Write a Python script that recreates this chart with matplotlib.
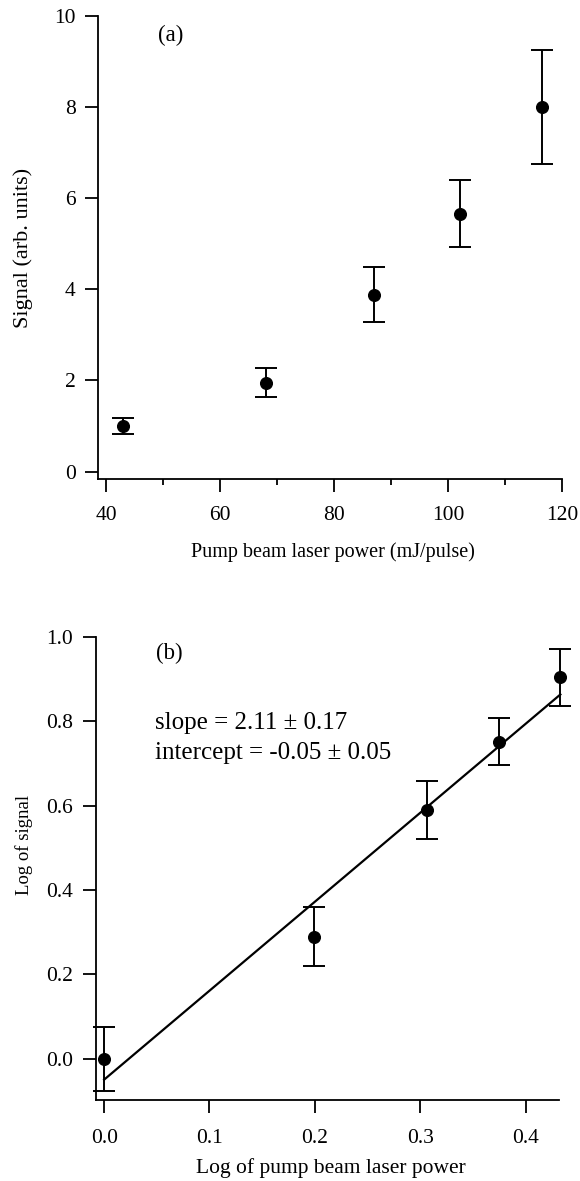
import matplotlib
matplotlib.use("Agg")
import matplotlib.pyplot as plt
from matplotlib.ticker import MultipleLocator

plt.rcParams['font.family'] = ['Liberation Serif', 'DejaVu Serif']

# Panel (a) data
power = [43, 68, 87, 102, 116.5]
signal = [1.0, 1.95, 3.88, 5.65, 8.0]
signal_lo = [0.83, 1.64, 3.28, 4.92, 6.76]
signal_hi = [1.18, 2.27, 4.50, 6.40, 9.25]

# Panel (b) data
log_power = [0.0, 0.199, 0.306, 0.375, 0.433]
log_signal = [0.0, 0.289, 0.59, 0.752, 0.904]
log_signal_lo = [-0.076, 0.22, 0.521, 0.696, 0.836]
log_signal_hi = [0.076, 0.36, 0.658, 0.808, 0.971]

fit_slope = 2.11
fit_intercept = -0.05
fit_x = [0.0, 0.433]

a_xticks = [40, 60, 80, 100, 120]
a_yticks = [0, 2, 4, 6, 8, 10]
b_xticks = [0.0, 0.1, 0.2, 0.3, 0.4]
b_yticks = [0.0, 0.2, 0.4, 0.6, 0.8, 1.0]

W, H = 580, 1181
fig = plt.figure(figsize=(W / 100, H / 100), dpi=100)

def style(ax):
    for s in ('top', 'right'):
        ax.spines[s].set_visible(False)
    for s in ('left', 'bottom'):
        ax.spines[s].set_linewidth(1.3)
    ax.tick_params(which='major', direction='out', length=9.4, width=1.3,
                   labelsize=15.5, color='black')
    ax.tick_params(which='minor', direction='out', length=4.6, width=1.3)

ebkw = dict(fmt='o', color='black', ms=8.4, capsize=8, elinewidth=1.4,
            capthick=1.4, ecolor='black', clip_on=False, zorder=3)

# ---- Panel (a)
ax1 = fig.add_axes([97.8 / W, 1 - 479.3 / H, (562.2 - 97.8) / W, (479.3 - 16) / H])
style(ax1)
yerr_a = [[s - l for s, l in zip(signal, signal_lo)],
          [h - s for s, h in zip(signal, signal_hi)]]
ax1.errorbar(power, signal, yerr=yerr_a, **ebkw)
ax1.set_xlim(38.5, 120)
ax1.set_ylim(-0.17, 10)
ax1.set_xticks(a_xticks)
ax1.set_yticks(a_yticks)
ax1.xaxis.set_minor_locator(MultipleLocator(10))
ax1.set_xticklabels([str(v) for v in a_xticks])
ax1.set_yticklabels([str(v) for v in a_yticks])
ax1.tick_params(axis='x', pad=9.5)
ax1.tick_params(axis='y', pad=6.5)
ax1.set_xlabel('Pump beam laser power (mJ/pulse)', fontsize=14.5, va='center')
ax1.set_ylabel('Signal (arb. units)', fontsize=16, va='center')
ax1.xaxis.set_label_coords(0.506, -0.157)
ax1.yaxis.set_label_coords(-0.161, 0.5)
ax1.text(49, 9.58, '(a)', fontsize=16.5, va='center', ha='left')

# ---- Panel (b)
ax2 = fig.add_axes([95.6 / W, 1 - 1100.3 / H, (559.3 - 95.6) / W, (1100.3 - 637) / H])
style(ax2)
yerr_b = [[s - l for s, l in zip(log_signal, log_signal_lo)],
          [h - s for s, h in zip(log_signal, log_signal_hi)]]
fit_y = [fit_intercept + fit_slope * x for x in fit_x]
ax2.plot(fit_x, fit_y, color='black', lw=1.6, clip_on=False)
ax2.errorbar(log_power, log_signal, yerr=yerr_b, **ebkw)
ax2.set_xlim(-0.0081, 0.432)
ax2.set_ylim(-0.099, 1.0)
ax2.set_xticks(b_xticks)
ax2.set_yticks(b_yticks)
ax2.set_xticklabels(['%.1f' % v for v in b_xticks])
ax2.set_yticklabels(['%.1f' % v for v in b_yticks])
ax2.tick_params(axis='x', pad=11.5)
ax2.tick_params(axis='y', pad=6.7)
ax2.set_xlabel('Log of pump beam laser power', fontsize=15.5, va='center')
ax2.set_ylabel('Log of signal', fontsize=13.5, va='center')
ax2.xaxis.set_label_coords(0.508, -0.146)
ax2.yaxis.set_label_coords(-0.154, 0.551)
ax2.text(0.049, 0.961, '(b)', fontsize=16.5, va='center', ha='left')
ax2.text(0.0483, 0.797, 'slope = 2.11 \u00b1 0.17', fontsize=18, va='center', ha='left')
ax2.text(0.0483, 0.726, 'intercept = -0.05 \u00b1 0.05', fontsize=18, va='center', ha='left')

fig.savefig('out.png', dpi=100)
